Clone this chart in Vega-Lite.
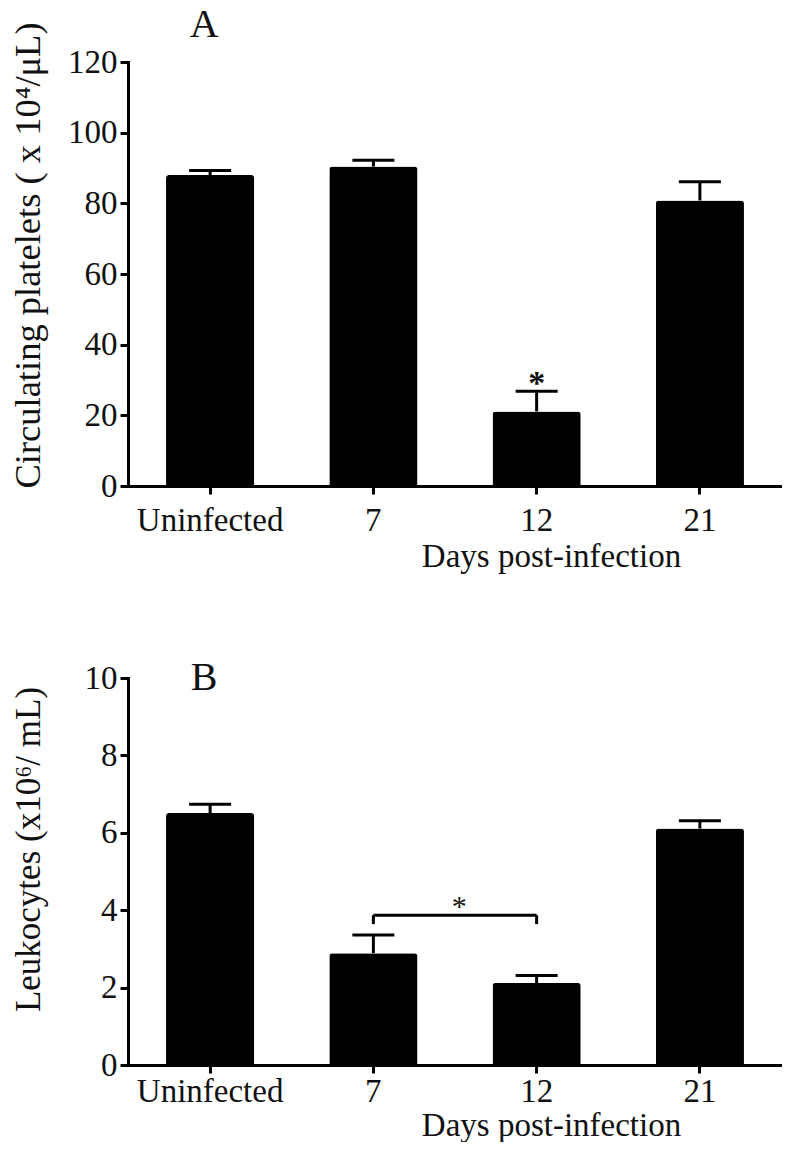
{
  "$schema": "https://vega.github.io/schema/vega-lite/v6.json",
  "background": "white",
  "padding": {"left": 9, "top": 4, "right": 0, "bottom": 0},
  "spacing": 85,
  "config": {
    "view": {"stroke": null},
    "font": "Liberation Serif",
    "tick": {"opacity": 1},
    "axis": {
      "domainColor": "#000", "domainWidth": 3, "domainCap": "square",
      "tickColor": "#000", "tickWidth": 3, "tickSize": 8,
      "labelFont": "Liberation Serif", "labelFontSize": 33, "labelColor": "#111",
      "titleFont": "Liberation Serif", "titleFontWeight": "normal", "titleColor": "#111",
      "grid": false
    }
  },
  "datasets": {
    "platelets": [
      {"day": "Uninfected", "mean": 88.0, "upper": 89.3},
      {"day": "7", "mean": 90.4, "upper": 92.2},
      {"day": "12", "mean": 21.1, "upper": 26.8},
      {"day": "21", "mean": 80.8, "upper": 86.1}
    ],
    "platelets_letter": [{"day": "Uninfected", "y": 127.1, "text": "A"}],
    "platelets_sig": [{"day": "12", "y": 26.0, "text": "*"}],
    "leukocytes": [
      {"day": "Uninfected", "mean": 6.51, "upper": 6.74},
      {"day": "7", "mean": 2.89, "upper": 3.36},
      {"day": "12", "mean": 2.12, "upper": 2.31},
      {"day": "21", "mean": 6.11, "upper": 6.31}
    ],
    "leukocytes_letter": [{"day": "Uninfected", "y": 9.68, "text": "B"}],
    "leukocytes_bracket": [{"from": "7", "to": "12", "y": 3.87, "low": 3.64}],
    "leukocytes_bracket_ends": [
      {"day": "7", "y": 3.87, "low": 3.64},
      {"day": "12", "y": 3.87, "low": 3.64}
    ],
    "leukocytes_sig": [{"day": "7", "y": 3.85, "text": "*"}]
  },
  "vconcat": [
    {
      "width": 654,
      "height": 424,
      "layer": [
        {
          "data": {"name": "platelets"},
          "mark": {"type": "bar", "color": "#000", "cornerRadiusTopLeft": 3, "cornerRadiusTopRight": 3},
          "encoding": {
            "x": {
              "field": "day", "type": "nominal", "sort": null,
              "scale": {"domain": ["Uninfected", "7", "12", "21"], "paddingInner": 0.46, "paddingOuter": 0.233},
              "axis": {
                "title": "Days post-infection", "labelAngle": 0, "labelBaseline": "alphabetic",
                "labelPadding": 36, "titleFontSize": 33, "titleX": 423, "titleY": 80,
                "titleAlign": "center", "titleBaseline": "alphabetic"
              }
            },
            "y": {
              "field": "mean", "type": "quantitative",
              "scale": {"domain": [0, 120], "nice": false},
              "axis": {
                "title": "Circulating platelets ( x 10⁴/μL)", "values": [0, 20, 40, 60, 80, 100, 120],
                "labelPadding": 3, "titleFontSize": 36.5, "titleAngle": 270, "titleX": -89, "titleY": 193,
                "titleAlign": "center", "titleBaseline": "alphabetic"
              }
            }
          }
        },
        {
          "data": {"name": "platelets"},
          "mark": {"type": "rule", "strokeWidth": 3, "color": "#000"},
          "encoding": {
            "x": {"field": "day", "type": "nominal", "sort": null},
            "y": {"field": "mean", "type": "quantitative"},
            "y2": {"field": "upper"}
          }
        },
        {
          "data": {"name": "platelets"},
          "mark": {"type": "tick", "size": 42, "thickness": 3, "color": "#000", "opacity": 1},
          "encoding": {
            "x": {"field": "day", "type": "nominal", "sort": null},
            "y": {"field": "upper", "type": "quantitative"}
          }
        },
        {
          "data": {"name": "platelets_sig"},
          "mark": {"type": "text", "fontSize": 34, "fontWeight": "bold", "font": "Liberation Serif", "color": "#111", "baseline": "alphabetic"},
          "encoding": {
            "x": {"field": "day", "type": "nominal", "sort": null},
            "y": {"field": "y", "type": "quantitative"},
            "text": {"field": "text"}
          }
        },
        {
          "data": {"name": "platelets_letter"},
          "mark": {"type": "text", "fontSize": 40, "font": "Liberation Serif", "color": "#111", "baseline": "alphabetic", "dx": -6},
          "encoding": {
            "x": {"field": "day", "type": "nominal", "sort": null},
            "y": {"field": "y", "type": "quantitative"},
            "text": {"field": "text"}
          }
        }
      ]
    },
    {
      "width": 654,
      "height": 387,
      "layer": [
        {
          "data": {"name": "leukocytes"},
          "mark": {"type": "bar", "color": "#000", "cornerRadiusTopLeft": 3, "cornerRadiusTopRight": 3},
          "encoding": {
            "x": {
              "field": "day", "type": "nominal", "sort": null,
              "scale": {"domain": ["Uninfected", "7", "12", "21"], "paddingInner": 0.46, "paddingOuter": 0.233},
              "axis": {
                "title": "Days post-infection", "labelAngle": 0, "labelBaseline": "alphabetic",
                "labelPadding": 28, "titleFontSize": 33, "titleX": 423, "titleY": 70,
                "titleAlign": "center", "titleBaseline": "alphabetic"
              }
            },
            "y": {
              "field": "mean", "type": "quantitative",
              "scale": {"domain": [0, 10], "nice": false},
              "axis": {
                "title": "Leukocytes (x10⁶/ mL)", "values": [0, 2, 4, 6, 8, 10],
                "labelPadding": 3, "titleFontSize": 35, "titleAngle": 270, "titleX": -89, "titleY": 171,
                "titleAlign": "center", "titleBaseline": "alphabetic"
              }
            }
          }
        },
        {
          "data": {"name": "leukocytes"},
          "mark": {"type": "rule", "strokeWidth": 3, "color": "#000"},
          "encoding": {
            "x": {"field": "day", "type": "nominal", "sort": null},
            "y": {"field": "mean", "type": "quantitative"},
            "y2": {"field": "upper"}
          }
        },
        {
          "data": {"name": "leukocytes"},
          "mark": {"type": "tick", "size": 42, "thickness": 3, "color": "#000", "opacity": 1},
          "encoding": {
            "x": {"field": "day", "type": "nominal", "sort": null},
            "y": {"field": "upper", "type": "quantitative"}
          }
        },
        {
          "data": {"name": "leukocytes_bracket"},
          "mark": {"type": "rule", "strokeWidth": 3, "color": "#000"},
          "encoding": {
            "x": {"field": "from", "type": "nominal", "sort": null},
            "x2": {"field": "to"},
            "y": {"field": "y", "type": "quantitative"}
          }
        },
        {
          "data": {"name": "leukocytes_bracket_ends"},
          "mark": {"type": "rule", "strokeWidth": 3, "color": "#000"},
          "encoding": {
            "x": {"field": "day", "type": "nominal", "sort": null},
            "y": {"field": "low", "type": "quantitative"},
            "y2": {"field": "y"}
          }
        },
        {
          "data": {"name": "leukocytes_sig"},
          "mark": {"type": "text", "fontSize": 30, "font": "Liberation Serif", "color": "#111", "baseline": "alphabetic", "dx": 86},
          "encoding": {
            "x": {"field": "day", "type": "nominal", "sort": null},
            "y": {"field": "y", "type": "quantitative"},
            "text": {"field": "text"}
          }
        },
        {
          "data": {"name": "leukocytes_letter"},
          "mark": {"type": "text", "fontSize": 40, "font": "Liberation Serif", "color": "#111", "baseline": "alphabetic", "dx": -6},
          "encoding": {
            "x": {"field": "day", "type": "nominal", "sort": null},
            "y": {"field": "y", "type": "quantitative"},
            "text": {"field": "text"}
          }
        }
      ]
    }
  ]
}
